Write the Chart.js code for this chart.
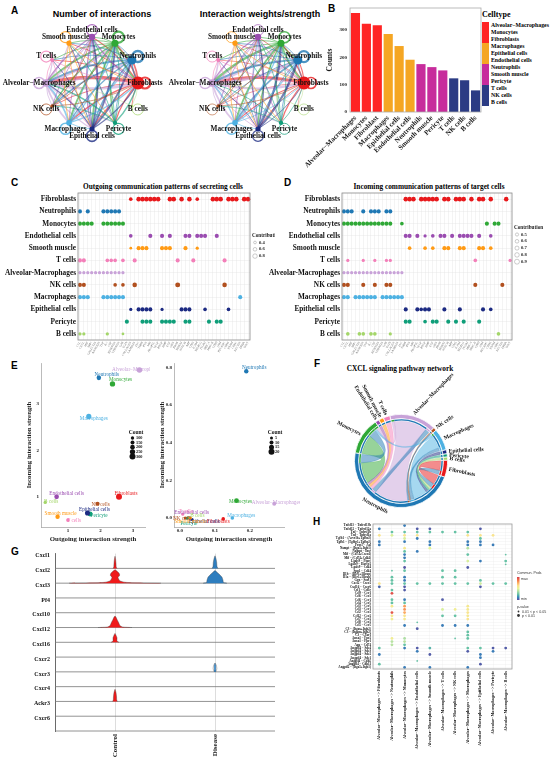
<!DOCTYPE html>
<html>
<head>
<meta charset="utf-8">
<script src="https://cdn.jsdelivr.net/npm/chart.js@4.4.1/dist/chart.umd.min.js"></script>
<style>
  body { margin: 0; background: #fff; }
  #fig { position: relative; width: 550px; height: 765px; overflow: hidden; background: #fff; }
  #fig canvas { position: absolute; }
  .tag { position: absolute; font: bold 10px "Liberation Sans", Arial, sans-serif; line-height: 1; }
  .ttlA { position: absolute; font: bold 9px "Liberation Sans", Arial, sans-serif; line-height: 1; white-space: nowrap; transform: translateX(-50%); }
  .ttl { position: absolute; font: bold 7.3px "Liberation Serif", serif; line-height: 1; white-space: nowrap; transform: translateX(-50%); }
  .lg { position: absolute; font: bold 5.8px "Liberation Serif", serif; line-height: 7px; white-space: nowrap; }
</style>
</head>
<body>
<div id="fig">
  <div class="tag" style="left:11px;top:6px">A</div>
  <div class="tag" style="left:328px;top:4px">B</div>
  <div class="tag" style="left:11px;top:178px">C</div>
  <div class="tag" style="left:284px;top:178px">D</div>
  <div class="tag" style="left:11px;top:361px">E</div>
  <div class="tag" style="left:314px;top:359px">F</div>
  <div class="tag" style="left:11px;top:547px">G</div>
  <div class="tag" style="left:313px;top:517px">H</div>
  <div class="ttlA" style="left:102px;top:10px">Number of interactions</div>
  <div class="ttlA" style="left:260px;top:10px">Interaction weights/strength</div>
  <div class="ttl" style="left:163px;top:183px">Outgoing communication patterns of secreting cells</div>
  <div class="ttl" style="left:429px;top:183px">Incoming communication patterns of target cells</div>
  <div class="ttl" style="left:400px;top:365px">CXCL signaling pathway network</div>
  <div id="legB"></div>
</div>
<script>
// ---------- data ----------
const cellColor = {
  "Fibroblasts": "#E8191C", "Neutrophils": "#1F78B4", "Monocytes": "#2FA836",
  "Endothelial cells": "#9A4CB0", "Smooth muscle": "#FF9A14", "T cells": "#F37FB9",
  "Alveolar-Macrophages": "#C8A2D8", "NK cells": "#B1501F", "Macrophages": "#4DB1E2",
  "Epithelial cells": "#1C2A82", "Pericyte": "#0F9E79", "B cells": "#A4D66A"
};

// A: circle networks
const netNodes = ["Endothelial cells", "Monocytes", "Neutrophils", "Fibroblasts", "B cells", "Pericyte",
  "Epithelial cells", "Macrophages", "NK cells", "Alveolar−Macrophages", "T cells", "Smooth muscle"];
const netRing = [1, 1, 1, 1, 1, 1, 1, 1, 1, 1, 1, 1];
const netNodeSize = [3.2, 3.5, 4.5, 6.5, 1.2, 2.2, 2.6, 2.8, 1.8, 3.8, 2, 2.6];
// [from, to, number, strength]
const netEdges = [
  [3,9,3.5,3.2],[3,7,1.4,1.2],[3,1,1.6,1.4],[3,2,1.6,1.2],[3,6,1.2,0.9],[3,0,1.2,0.9],[3,11,0.9,0.8],[3,10,0.9,0.7],[3,8,0.9,0.7],[3,5,1.2,1.2],[3,4,0.8,0.5],
  [9,3,2.6,2.2],[9,2,1.8,2.6],[9,1,1.8,2.2],[9,7,1.8,1.8],[9,6,1.4,1.0],[9,0,1.4,1.4],[9,11,1.2,0.9],[9,10,1.2,1.6],[9,5,0.9,0.9],[9,8,0.9,0.9],
  [1,9,1.8,2.2],[1,3,1.8,1.8],[1,6,1.8,1.4],[1,7,1.8,1.8],[1,8,1.4,0.9],[1,5,1.4,0.9],[1,10,0.9,0.9],[1,11,0.9,0.9],[1,0,0.9,0.9],[1,2,1.4,1.4],
  [2,9,1.8,2.2],[2,7,1.4,1.8],[2,6,1.4,0.9],[2,8,1.4,0.9],[2,3,1.4,0.9],[2,10,0.9,0.9],[2,11,0.9,0.9],[2,5,0.9,0.9],[2,1,0.9,0.9],
  [6,1,1.8,2.2],[6,2,1.8,2.2],[6,0,1.8,1.4],[6,9,1.4,0.9],[6,11,0.9,0.9],[6,3,1.4,0.9],[6,10,0.9,0.7],
  [7,9,1.8,1.4],[7,3,1.4,0.9],[7,2,1.4,1.4],[7,1,1.4,1.4],[7,0,0.9,0.9],[7,6,0.9,0.9],
  [0,6,1.4,0.9],[0,7,0.9,0.9],[0,9,1.4,1.4],[0,3,1.4,0.9],[0,5,0.9,0.9],[0,8,0.9,0.9],
  [5,9,1.4,0.9],[5,11,0.9,0.9],[5,0,0.9,0.9],[5,1,0.9,0.9],[5,8,0.9,0.9],[5,3,1.4,0.9],
  [11,5,0.9,0.9],[11,6,0.9,0.9],[11,3,0.9,0.9],[11,7,0.9,0.9],
  [10,3,0.9,0.9],[10,9,0.9,0.9],[10,6,0.9,0.9],
  [8,1,0.9,0.9],[8,3,0.9,0.9],[8,0,0.9,0.9],
  [4,9,0.6,0.6],[4,3,0.6,0.6]
];
const netLoops = [[1.2,0.8],[2.2,1.6],[2.4,2.2],[2.2,1.6],[0.9,0.7],[1.2,0.9],[1.6,1.2],[1.6,1.4],[0.9,0.7],[1.6,1.4],[1.2,0.9],[1.2,0.9]];

// B: cell counts
const cellTypes = ["Alveolar−Macrophages", "Monocytes", "Fibroblast", "Macrophages", "Epithelial cells", "Endothelial cells",
  "Neutrophils", "Smooth muscle", "Pericyte", "T cells", "NK cells", "B cells"];
const cellCounts = [362, 322, 317, 285, 241, 191, 175, 164, 152, 123, 116, 79];
const countGroup = [0, 0, 0, 1, 1, 1, 2, 2, 2, 3, 3, 3];
const groupColors = ["#FF2424", "#F5A623", "#C72C9C", "#2B3B84"];
const countTicks = [0, 100, 200, 300];
const legendNames = ["Alveolar−Macrophages", "Monocytes", "Fibroblasts", "Macrophages", "Epithelial cells", "Endothelial cells",
  "Neutrophils", "Smooth muscle", "Pericyte", "T cells", "NK cells", "B cells"];

// C, D: communication patterns
const patternCells = ["Fibroblasts", "Neutrophils", "Monocytes", "Endothelial cells", "Smooth muscle", "T cells",
  "Alveolar-Macrophages", "NK cells", "Macrophages", "Epithelial cells", "Pericyte", "B cells"];
const pathways = ["CCL","CXCL","MIF","SPP1","GALECTIN","ANNEXIN","TNF","IL1","CSF","RESISTIN","VISFATIN","GAS","TGFb",
  "COLLAGEN","LAMININ","FN1","THBS","PTN","MK","ANGPTL","VEGF","PDGF","BMP","EGF","GRN","PROS","SEMA3","NOTCH","APP",
  "CD45","ICAM","SELPLG","ITGB2","MHC-I","MHC-II","CD99","JAM","PECAM1","CDH5","ESAM","CDH1","NECTIN","EPHA","WNT"];
// per row: [pathway index, contribution]
const outgoingDots = [
  [[13,.6],[15,.8],[16,.8],[17,.8],[18,.8],[19,.8],[20,.8],[23,.8],[24,.8],[26,.8],[28,.8],[30,.6],[34,.8],[35,.8],[36,.8],[38,.8],[39,.8],[40,.8],[42,.8],[43,.8]],
  [[0,.7],[2,.7],[6,.7],[7,.7],[8,.7],[9,.7],[10,.7]],
  [[0,.7],[1,.7],[2,.7],[3,.7],[6,.7],[7,.7],[8,.7],[9,.7],[10,.7],[11,.7]],
  [[13,.6],[18,.7],[21,.7],[23,.7],[27,.7],[28,.7],[30,.7],[31,.7],[32,.7],[35,.7]],
  [[13,.4],[15,.7],[16,.7],[17,.7],[21,.7],[22,.7],[23,.7],[27,.7],[30,.5]],
  [[0,.7],[1,.7],[7,.6],[8,.6],[9,.6],[11,.6],[14,.7],[25,.7],[29,.7],[37,.7]],
  [[0,.5],[1,.5],[2,.5],[3,.5],[4,.5],[5,.5],[6,.5],[7,.5],[8,.5],[9,.5],[10,.5],[11,.5]],
  [[0,.7],[1,.7],[9,.6],[11,.6],[14,.8],[25,.9],[37,.8]],
  [[0,.7],[1,.7],[2,.7],[6,.7],[7,.7],[8,.7],[9,.7],[10,.7],[11,.7],[41,.7]],
  [[13,.5],[15,.7],[16,.7],[17,.7],[18,.7],[21,.5],[26,.7],[27,.7],[28,.7],[32,.6],[38,.6]],
  [[12,.7],[16,.7],[17,.7],[18,.7],[21,.7],[22,.7],[23,.7],[24,.7],[27,.7],[28,.7],[33,.7],[35,.7],[36,.7]],
  [[0,.5],[1,.5],[7,.5],[11,.4]]
];
const incomingDots = [
  [[16,.8],[17,.8],[18,.8],[20,.8],[21,.8],[22,.8],[23,.8],[24,.8],[26,.8],[27,.8],[29,.8],[30,.8],[31,.8],[33,.8],[35,.8],[36,.8],[38,.8],[42,.8]],
  [[0,.7],[1,.7],[2,.7],[5,.7],[7,.7],[8,.7],[9,.7],[11,.7],[12,.7]],
  [[0,.7],[1,.7],[2,.7],[3,.7],[4,.7],[5,.7],[6,.7],[7,.7],[8,.7],[9,.7],[10,.7],[11,.7],[12,.7],[15,.6],[37,.7],[39,.7],[40,.7]],
  [[16,.7],[17,.7],[19,.7],[21,.5],[23,.6],[25,.7],[26,.7],[28,.7],[30,.7],[31,.7],[32,.7],[33,.7],[35,.7],[38,.6]],
  [[17,.6],[21,.6],[23,.6],[26,.7],[27,.7],[30,.7],[31,.7],[35,.7],[36,.7],[38,.6]],
  [[1,.5],[5,.5],[8,.5],[11,.5],[12,.5],[34,.6],[43,.5]],
  [[0,.5],[1,.5],[2,.5],[3,.5],[4,.5],[5,.5],[6,.5],[7,.5],[8,.5],[9,.5],[10,.5],[11,.5],[12,.5],[13,.5],[14,.5],[15,.5]],
  [[0,.7],[1,.7],[5,.7],[8,.7],[11,.7],[12,.7],[34,.7],[41,.7]],
  [[0,.7],[1,.7],[3,.7],[4,.7],[5,.7],[6,.7],[7,.7],[8,.7],[10,.7],[11,.7],[12,.7],[13,.7],[14,.7],[15,.7]],
  [[16,.7],[19,.7],[20,.6],[21,.7],[22,.7],[26,.7],[30,.7],[36,.7],[38,.6]],
  [[16,.7],[17,.7],[21,.6],[23,.7],[24,.7],[27,.7],[29,.7],[31,.7],[35,.7]],
  [[1,.6],[4,.6],[5,.6],[7,.6],[8,.6],[12,.5],[40,.6]]
];
const outgoingLegend = [0.4, 0.6, 0.8];
const incomingLegend = [0.5, 0.6, 0.7, 0.8, 0.9];

// E: signaling role scatter
const eCells = ["Endothelial cells", "Monocytes", "Neutrophils", "Fibroblasts", "B cells", "Pericyte",
  "Epithelial cells", "Macrophages", "NK cells", "Alveolar−Macrophages", "T cells", "Smooth muscle"];
const e1Out = [0.65, 2.37, 1.95, 2.57, 0.30, 1.68, 1.60, 1.64, 1.91, 3.20, 1.00, 0.68];
const e1In = [1.00, 3.43, 3.56, 1.00, 0.88, 0.63, 0.65, 2.73, 0.85, 3.73, 0.50, 0.57];
const e1Count = [200, 250, 190, 300, 100, 220, 230, 240, 160, 260, 130, 180];
const e2Out = [0.028, 0.162, 0.190, 0.124, 0.024, 0.020, 0.035, 0.150, 0.015, 0.270, 0.008, 0.030];
const e2In = [0.002, 0.092, 0.780, -0.005, 0.003, -0.002, -0.008, 0.000, 0.000, 0.075, 0.020, 0.000];
const e2Count = [5, 14, 12, 8, 5, 5, 5, 8, 5, 10, 5, 5];
const e1XTicks = [1, 2, 3], e1YTicks = [1, 2, 3];
const e2XTicks = [0, 0.1, 0.2], e2YTicks = [0, 0.2, 0.4, 0.6, 0.8];
const e1CountLegend = [100, 150, 200, 250, 300];
const e2CountLegend = [5, 10, 15, 20];

// F: CXCL chord
const cxclCells = ["Alveolar−Macrophages", "NK cells", "Macrophages", "Epithelial cells", "Pericyte", "B cells",
  "Fibroblasts", "Neutrophils", "Monocytes", "Endothelial cells", "Smooth muscle", "T cells"];
const cxclSector = [58, 4, 27, 5, 4, 4, 21, 168, 46, 5, 6, 8];
// [source, target, value]
const cxclLinks = [[0,7,48],[2,7,20],[8,7,30],[6,7,14],[7,8,12],[7,6,6],[7,2,5],[7,0,6],[10,7,4],[11,7,4],
  [9,7,3],[3,7,3],[4,7,3],[5,7,3],[1,7,2],[0,8,4],[2,8,3],[7,1,2]];

// G: stacked violins
const geneNames = ["Cxcl1", "Cxcl2", "Cxcl3", "Pf4", "Cxcl10", "Cxcl12", "Cxcl16", "Cxcr2", "Cxcr3", "Cxcr4", "Ackr3", "Cxcr6"];
const groups = ["Control", "Disease"];
// outlines [offset from group centre, height as share of row]
const vCtrlCxcl1 = [[-0.02,0],[-0.012,0.1],[-0.01,0.35],[-0.006,0.6],[0,0.82],[0.006,0.6],[0.01,0.35],[0.012,0.1],[0.02,0]];
const vCtrlCxcl2 = [[-0.46,0],[-0.2,0.02],[-0.1,0.06],[-0.05,0.15],[-0.035,0.3],[-0.03,0.4],[-0.045,0.5],[-0.045,0.62],[-0.03,0.75],[-0.008,0.87],[0,0.9],
  [0.008,0.87],[0.03,0.75],[0.045,0.62],[0.045,0.5],[0.03,0.4],[0.035,0.3],[0.05,0.15],[0.1,0.06],[0.2,0.02],[0.46,0]];
const vCtrlCxcl10 = [[-0.17,0],[-0.08,0.03],[-0.05,0.12],[-0.035,0.35],[-0.02,0.55],[-0.008,0.72],[0,0.78],[0.008,0.72],[0.02,0.55],[0.035,0.35],[0.05,0.12],[0.08,0.03],[0.17,0]];
const vCtrlCxcl12 = [[-0.04,0],[-0.02,0.08],[-0.02,0.3],[-0.012,0.45],[0,0.6],[0.012,0.45],[0.02,0.3],[0.02,0.08],[0.04,0]];
const vCtrlCxcr4 = [[-0.025,0],[-0.017,0.1],[-0.015,0.35],[-0.01,0.6],[0,0.82],[0.01,0.6],[0.015,0.35],[0.017,0.1],[0.025,0]];
const vDisCxcl1 = [[-0.03,0],[-0.02,0.12],[-0.017,0.4],[-0.01,0.65],[0,0.85],[0.01,0.65],[0.017,0.4],[0.02,0.12],[0.03,0]];
const vDisCxcl2 = [[-0.12,0],[-0.085,0.04],[-0.08,0.2],[-0.07,0.4],[-0.05,0.55],[-0.03,0.68],[-0.01,0.8],[0,0.85],[0.01,0.8],[0.03,0.68],[0.05,0.55],[0.07,0.4],[0.08,0.2],[0.085,0.04],[0.12,0]];
const vDisCxcr2 = [[-0.008,0],[-0.018,0.2],[-0.015,0.4],[0,0.6],[0.015,0.4],[0.018,0.2],[0.008,0]];
const violins = [[0,0,vCtrlCxcl1],[0,1,vCtrlCxcl2],[0,4,vCtrlCxcl10],[0,5,vCtrlCxcl12],[0,9,vCtrlCxcr4],
  [1,0,vDisCxcl1],[1,1,vDisCxcl2],[1,7,vDisCxcr2]];

// H: ligand-receptor dot plot
const lrPairs = ["Tnfsf13 − Tnfrsf13b","Tnfsf12 − Tnfrsf12a","Tnf − Tnfrsf1b","Tnf − Tnfrsf1a","Tgfb1 − (Acvr1b+Tgfbr2)",
  "Tgfb1 − (Tgfbr1+Tgfbr2)","Pros1 − Axl","Nampt − (Itga5+Itgb1)","Nampt − Insr","Mif − (Cd74+Cxcr4)","Mif − (Cd74+Cd44)",
  "Lgals9 − Ptprc","Lgals9 − Havcr2","Lgals9 − Cd44","Spp1 − Cd44","Il1b − (Il1r1+Il1rap)","Il1a − (Il1r1+Il1rap)",
  "Grn − Sort1","Cxcl2 − Cxcr2","Cxcl16 − Cxcr6","Csf1 − Csf1r","Ccl9 − Ccr1","Ccl6 − Ccr2","Ccl6 − Ccr1","Ccl4 − Ccr5",
  "Ccl3 − Ccr5","Ccl3 − Ccr1","Ccl2 − Ccr2","Ccl12 − Ccr2","Ccl7 − Ccr2","Ccl8 − Ccr2","Ccl5 − Ccr5","C3 − (Itgax+Itgb2)",
  "C3 − (Itgam+Itgb2)","C3 − C3ar1","Anxa1 − Fpr2","Anxa1 − Fpr1","App − Cd74","Angptl4 − Sdc4","Angptl4 − Sdc3",
  "Angptl4 − Sdc2","Angptl4 − Sdc1","Angptl4 − Cdh5","Angptl4 − Cdh11","Angptl2 − (Itga5+Itgb1)"];
const targetCells = ["Fibroblasts", "Neutrophils", "Monocytes", "Endothelial cells", "Smooth muscle", "T cells",
  "NK cells", "Macrophages", "Epithelial cells", "Pericyte", "B cells"];
// per target column: [row, commun. prob (0-1 of max), p-class 1: p<0.01, 0: 0.01<p<0.05]
const hDots = [
  [[1,.1],[3,.6],[5,.1],[6,.1],[18,.6],[19,.05],[38,.25],[40,.1],[43,.25]],
  [[2,.25],[3,.47],[14,.25,0],[16,.25],[17,.25],[18,.25],[20,.25],[21,.95],[23,.25],[24,.25],[25,.58],[27,.93],[28,.58],[29,.55],[35,.55],[36,.4],[37,.4]],
  [[0,.1],[2,.25],[3,.6],[4,.47],[5,.1],[7,.58],[8,.25],[9,.1],[10,.1],[11,.25],[13,.02],[14,.25],[16,.1],[17,.1],[18,.25],[19,.03],[20,.03],[23,.1],[24,.25],[25,.78],[26,.8],[27,.76],[28,.6],[29,.58],[31,.1],[35,.38],[36,.4],[37,.25],[38,.1],[44,.1]],
  [[1,.03],[2,.25],[3,.6],[4,.1],[8,.1],[18,.25],[30,.25,0],[32,.03],[38,.03],[39,.1],[42,.25,0]],
  [[1,.03],[2,.25],[5,.1],[6,.1],[7,.5],[18,.25],[38,.22],[40,.03],[44,.1]],
  [[2,.25],[14,.25],[16,.25],[18,.25],[23,.03],[26,.47],[28,.25],[31,.1]],
  [[2,.25],[14,.25],[16,.25],[18,.25],[26,.55],[28,.25],[31,.1],[35,.25,0]],
  [[2,.25],[3,.6],[5,.1],[6,.1],[7,.4],[9,.25],[11,.47],[13,.03],[18,.25],[25,.58],[26,.58],[27,.6],[28,.58],[29,.6],[31,.1],[33,.25],[34,.25],[35,.25],[38,.25],[39,.03],[44,.1]],
  [[1,.03],[3,.6],[4,.25],[5,.1],[6,.1],[11,.1],[17,.25],[18,.45],[19,.03],[38,.25],[40,.1],[41,.1],[43,.03]],
  [[3,.6],[6,.1],[18,.25],[38,.03],[39,.1]],
  [[9,.25,0],[11,.25],[12,.25,0],[18,.25],[38,.03]]
];
const probStops = ["#5E4FA2","#3288BD","#66C2A5","#ABDDA4","#E6F598","#FEE08B","#FDAE61","#F46D43","#D53E4F"];

// ---------- helpers ----------
const SERIF = '"Liberation Serif", "DejaVu Serif", serif';
Chart.defaults.font.family = SERIF;
Chart.defaults.font.weight = 'bold';
Chart.defaults.color = '#1a1a1a';
Chart.defaults.animation = false;
Chart.defaults.responsive = false;
Chart.defaults.maintainAspectRatio = false;
Chart.defaults.plugins.legend.display = false;
Chart.defaults.plugins.tooltip.enabled = false;

const fig = document.getElementById('fig');
function cv(l, t, w, h) {
  const c = document.createElement('canvas');
  c.width = w; c.height = h;
  c.style.left = l + 'px'; c.style.top = t + 'px';
  c.style.width = w + 'px'; c.style.height = h + 'px';
  fig.appendChild(c);
  return c;
}
function col(name) { return cellColor[name.replace('−', '-')]; }
function rgba(hex, a) {
  const n = parseInt(hex.slice(1), 16);
  return `rgba(${n >> 16},${(n >> 8) & 255},${n & 255},${a})`;
}
function mix(h1, h2, f) {
  const a = parseInt(h1.slice(1), 16), b = parseInt(h2.slice(1), 16);
  const ch = s => Math.round(((a >> s) & 255) * (1 - f) + ((b >> s) & 255) * f);
  return `rgb(${ch(16)},${ch(8)},${ch(0)})`;
}
function probColor(p) {
  const t = Math.max(0, Math.min(1, p)) * (probStops.length - 1);
  const i = Math.min(Math.floor(t), probStops.length - 2);
  return mix(probStops[i], probStops[i + 1], t - i);
}
const fixTicks = vals => s => { s.ticks = vals.map(v => ({ value: v })); };
const noGrid = { display: false, drawTicks: false };

const boxPlugin = {
  id: 'box',
  afterDraw(c, a, o) {
    const { left, top, right, bottom } = c.chartArea;
    c.ctx.save();
    c.ctx.strokeStyle = o.color || '#999';
    c.ctx.lineWidth = o.width || 0.8;
    c.ctx.strokeRect(left, top, right - left, bottom - top);
    c.ctx.restore();
  }
};

// ---------- A: networks ----------
const netPlugin = {
  id: 'net',
  beforeDatasetsDraw(chart, a, o) {
    const sc = chart.scales.r, ctx = chart.ctx, k = o.k;
    ctx.save();
    netLoops.forEach((lw, i) => {
      const p = sc.getPointPositionForValue(i, 1.15);
      ctx.beginPath();
      ctx.arc(p.x, p.y, 5.5, 0, Math.PI * 2);
      ctx.strokeStyle = rgba(col(netNodes[i]), 0.8);
      ctx.lineWidth = lw[k];
      ctx.stroke();
    });
    netEdges.forEach(e => {
      const p = sc.getPointPositionForValue(e[0], 1), q = sc.getPointPositionForValue(e[1], 1);
      const mx = (p.x + q.x) / 2, my = (p.y + q.y) / 2;
      const dx = q.x - p.x, dy = q.y - p.y;
      ctx.beginPath();
      ctx.moveTo(p.x, p.y);
      ctx.quadraticCurveTo(mx - dy * 0.12, my + dx * 0.12, q.x, q.y);
      ctx.strokeStyle = rgba(col(netNodes[e[0]]), 0.6);
      ctx.lineWidth = e[2 + k];
      ctx.stroke();
    });
    ctx.restore();
  },
  afterDatasetsDraw(chart) {
    const sc = chart.scales.r, ctx = chart.ctx;
    ctx.save();
    ctx.font = 'bold 7.3px ' + SERIF;
    ctx.fillStyle = '#111';
    ctx.textAlign = 'center';
    ctx.textBaseline = 'middle';
    netNodes.forEach((n, i) => {
      const p = sc.getPointPositionForValue(i, 1.15);
      ctx.fillText(n, p.x, p.y);
    });
    ctx.restore();
  }
};
function netChart(left, k) {
  new Chart(cv(left, 0, 180, 145), {
    type: 'radar',
    data: {
      labels: netNodes,
      datasets: [{
        data: netRing, showLine: false, fill: false, clip: false, borderWidth: 0,
        backgroundColor: 'rgba(0,0,0,0)', borderColor: 'rgba(0,0,0,0)',
        pointRadius: netNodeSize, pointBorderWidth: 0,
        pointBackgroundColor: netNodes.map(col)
      }]
    },
    options: {
      layout: { padding: { left: 46, top: 37, right: 42, bottom: 16 } },
      scales: { r: { min: 0, max: 1, grid: { display: false }, angleLines: { display: false },
        pointLabels: { display: false }, ticks: { display: false } } },
      plugins: { net: { k } }
    },
    plugins: [netPlugin]
  });
}
netChart(0, 0);
netChart(166, 1);

// ---------- B: counts ----------
new Chart(cv(290, 0, 260, 172), {
  type: 'bar',
  data: {
    labels: cellTypes,
    datasets: [{ data: cellCounts, backgroundColor: countGroup.map(g => groupColors[g]), barPercentage: 0.84, categoryPercentage: 1 }]
  },
  options: {
    layout: { padding: { left: 36, top: 8, right: 69 } },
    scales: {
      x: { grid: noGrid, border: { display: false },
        ticks: { minRotation: 45, maxRotation: 45, autoSkip: false, font: { size: 7 }, padding: 2 },
        afterFit: s => { s.height = 60; } },
      y: { min: 0, max: 380, grid: noGrid, border: { display: false },
        afterBuildTicks: fixTicks(countTicks), ticks: { autoSkip: false, font: { size: 5 }, padding: 3 },
        title: { display: true, text: 'Counts', font: { size: 7.5 }, padding: 0 },
        afterFit: s => { s.width = 24; } }
    },
    plugins: { box: { color: '#aaa' } }
  },
  plugins: [boxPlugin]
});
(function legendB() {
  const lg = document.getElementById('legB');
  let html = '<div class="lg" style="left:482px;top:10px;font-size:8px;line-height:9px">Celltype</div>';
  legendNames.forEach((n, i) => {
    const y = 22 + i * 7;
    html += `<div style="position:absolute;left:482px;top:${y}px;width:7px;height:7px;background:${groupColors[countGroup[i]]}"></div>`;
    html += `<div class="lg" style="left:491px;top:${y}px">${n}</div>`;
  });
  lg.innerHTML = html;
})();

// ---------- C, D: pattern dot plots ----------
const contribR = c => 0.5 + 2.2 * c;
const contribLegend = {
  id: 'contribLegend',
  afterDraw(chart, a, o) {
    const vals = o.which === 1 ? outgoingLegend : incomingLegend;
    const ctx = chart.ctx, x = chart.chartArea.right + o.dx, y = chart.chartArea.top + o.dy;
    ctx.save();
    ctx.fillStyle = '#222';
    ctx.font = 'bold 5.2px ' + SERIF;
    ctx.textBaseline = 'middle';
    ctx.fillText('Contribution', x, y);
    ctx.font = 'bold 4.6px ' + SERIF;
    vals.forEach((v, k) => {
      const yy = y + 6.5 + k * 6.8;
      ctx.beginPath();
      ctx.arc(x + 3, yy, contribR(v), 0, Math.PI * 2);
      ctx.strokeStyle = '#999'; ctx.lineWidth = 0.5; ctx.stroke();
      ctx.fillText(v.toFixed(1), x + 7, yy);
    });
    ctx.restore();
  }
};
function patternChart(left, width, yWidth, padRight, dots, which, lx, ly) {
  new Chart(cv(left, 175, width, 190), {
    type: 'scatter',
    data: {
      datasets: dots.map((row, r) => ({
        data: row.map(d => ({ x: pathways[d[0]], y: patternCells[r], c: d[1] })),
        pointBackgroundColor: cellColor[patternCells[r]], pointBorderWidth: 0,
        pointRadius: ctx => ctx.raw ? contribR(ctx.raw.c) : 2
      }))
    },
    options: {
      layout: { padding: { top: 18, right: padRight } },
      scales: {
        x: { type: 'category', labels: pathways, offset: true,
          grid: { color: '#e4e4e4', lineWidth: 0.4, drawTicks: false }, border: { display: false },
          ticks: { autoSkip: false, minRotation: 60, maxRotation: 60, font: { size: 3, weight: 'normal' }, color: '#666', padding: 1 },
          afterFit: s => { s.height = 25; } },
        y: { type: 'category', labels: patternCells, offset: true,
          grid: { color: '#e4e4e4', lineWidth: 0.4, drawTicks: false }, border: { display: false },
          ticks: { autoSkip: false, font: { size: 7.3 }, padding: 2, color: '#111' },
          afterFit: s => { s.width = yWidth; } }
      },
      plugins: { box: { color: '#888' }, contribLegend: { which, dx: lx, dy: ly } }
    },
    plugins: [boxPlugin, contribLegend]
  });
}
patternChart(0, 275, 78, 25, outgoingDots, 1, 2, 43);
patternChart(262, 288, 80, 38, incomingDots, 2, 2, 35);

// ---------- E: scatter ----------
const eLabelOffset = {
  1: [[10,-3],[8,-4],[8,-3],[7,-3],[6,-1],[9,2],[7,-3],[5,2],[3,1],[-3,0],[6,1],[3,-3]],
  2: [[2,-5],[4,1],[8,-4],[-5,3],[9,-2],[2,5],[12,2],[9,-2],[-3,1],[2,-1],[3,-3],[0,4]]
};
const scatterLabels = {
  id: 'slabels',
  afterDatasetsDraw(chart, a, o) {
    const off = eLabelOffset[o.which], ctx = chart.ctx;
    const meta = chart.getDatasetMeta(0);
    ctx.save();
    ctx.font = '5.2px ' + SERIF;
    ctx.textAlign = 'center';
    ctx.textBaseline = 'middle';
    meta.data.forEach((pt, i) => {
      ctx.fillStyle = col(eCells[i]);
      ctx.fillText(eCells[i], pt.x + off[i][0], pt.y + off[i][1]);
    });
    ctx.restore();
  }
};
const countLegend = {
  id: 'countLegend',
  afterDraw(chart, a, o) {
    const vals = o.which === 1 ? e1CountLegend : e2CountLegend;
    const ctx = chart.ctx, x = chart.chartArea.right - 9, y = chart.chartArea.top + 70;
    ctx.save();
    ctx.fillStyle = '#111';
    ctx.textBaseline = 'middle';
    ctx.font = 'bold 5.5px ' + SERIF;
    ctx.textAlign = 'center';
    ctx.fillText('Count', x, y);
    ctx.font = 'bold 4.3px ' + SERIF;
    ctx.textAlign = 'left';
    vals.forEach((v, k) => {
      const yy = y + 5 + k * 4.6;
      ctx.beginPath();
      ctx.arc(x - 3.5, yy, 1 + v / o.rs, 0, Math.PI * 2);
      ctx.fill();
      ctx.fillText(String(v), x, yy);
    });
    ctx.restore();
  }
};
function eChart(left, width, padRight, xs, ys, counts, rs, xr, yr, xt, yt, which, dec) {
  new Chart(cv(left, 350, width, 193), {
    type: 'scatter',
    data: {
      datasets: [{
        data: eCells.map((c, i) => ({ x: xs[i], y: ys[i], n: counts[i] })),
        pointBackgroundColor: eCells.map(col), pointBorderWidth: 0,
        pointRadius: ctx => ctx.raw ? 1 + ctx.raw.n / rs : 2
      }]
    },
    options: {
      layout: { padding: { top: 13, right: padRight } },
      scales: {
        x: { min: xr[0], max: xr[1], afterBuildTicks: fixTicks(xt), grid: noGrid,
          border: { color: '#aaa', width: 0.8 },
          ticks: { autoSkip: false, font: { size: 5 }, padding: 1, callback: v => Number(v).toFixed(dec) },
          title: { display: true, text: 'Outgoing interaction strength', font: { size: 6.8 }, padding: { top: 1, bottom: 0 } },
          afterFit: s => { s.height = 16; } },
        y: { min: yr[0], max: yr[1], afterBuildTicks: fixTicks(yt), grid: noGrid,
          border: { color: '#aaa', width: 0.8 },
          ticks: { autoSkip: false, font: { size: 5 }, padding: 2, callback: v => Number(v).toFixed(dec) },
          title: { display: true, text: 'Incoming interaction strength', font: { size: 6.8 }, padding: { top: 3, bottom: 0 } },
          afterFit: s => { s.width = 19; } }
      },
      plugins: { slabels: { which }, countLegend: { which, rs } }
    },
    plugins: [scatterLabels, countLegend]
  });
}
eChart(22, 128, 5, e1Out, e1In, e1Count, 150, [0.17, 3.37], [0.35, 3.88], e1XTicks, e1YTicks, 1, 0);
eChart(155, 145, 16, e2Out, e2In, e2Count, 10, [-0.017, 0.298], [-0.048, 0.824], e2XTicks, e2YTicks, 2, 1);

// ---------- F: chord ----------
const cxclLabelLayout = [
  [null, -46, 'left'], [null, -34, 'left'], [null, -24, 'left'], [null, -3, 'left'], [null, 5, 'left'], [null, 8, 'left'],
  [null, 12, 'left'], [210, 28, 'center'], [null, 27, 'right'], [null, 58, 'right'], [null, 62, 'right'], [null, 65, 'right']
];
const chordPlugin = {
  id: 'chord',
  afterDatasetsDraw(chart) {
    const arcs = chart.getDatasetMeta(0).data, ctx = chart.ctx;
    const cx = arcs[0].x, cy = arcs[0].y, Ro = arcs[0].outerRadius, R = arcs[0].innerRadius - 2.6;
    const mid = arcs.map(a => (a.startAngle + a.endAngle) / 2);
    const ends = arcs.map(() => []);
    cxclLinks.forEach((l, li) => {
      ends[l[0]].push({ li, other: l[1], v: l[2], role: 's' });
      ends[l[1]].push({ li, other: l[0], v: l[2], role: 't' });
    });
    const pos = cxclLinks.map(() => ({}));
    const TAU = Math.PI * 2;
    ends.forEach((list, i) => {
      const a = arcs[i], pad = 0.01, span = a.endAngle - a.startAngle - 2 * pad;
      const tot = list.reduce((s, e) => s + e.v, 0);
      if (!tot) return;
      const d = e => (((mid[e.other] - mid[i]) % TAU) + TAU) % TAU;
      list.sort((p, q) => d(q) - d(p));
      let cur = a.startAngle + pad;
      list.forEach(e => {
        const w = span * e.v / tot;
        pos[e.li][e.role] = [cur, cur + w];
        cur += w;
      });
    });
    ctx.save();
    cxclLinks.forEach((l, li) => {
      const s = pos[li].s, t = pos[li].t;
      ctx.beginPath();
      ctx.arc(cx, cy, R, s[0], s[1]);
      ctx.quadraticCurveTo(cx, cy, cx + R * Math.cos(t[0]), cy + R * Math.sin(t[0]));
      ctx.arc(cx, cy, R, t[0], t[1]);
      ctx.quadraticCurveTo(cx, cy, cx + R * Math.cos(s[0]), cy + R * Math.sin(s[0]));
      ctx.closePath();
      ctx.fillStyle = rgba(col(cxclCells[l[0]]), 0.5);
      ctx.fill();
      ctx.strokeStyle = rgba(col(cxclCells[l[0]]), 0.7);
      ctx.lineWidth = 0.3;
      ctx.stroke();
      ['s', 't'].forEach(r => {
        ctx.beginPath();
        ctx.arc(cx, cy, R + 1.3, pos[li][r][0], pos[li][r][1]);
        ctx.strokeStyle = col(cxclCells[l[1]]);
        ctx.lineWidth = 1.4;
        ctx.stroke();
      });
    });
    ctx.font = 'bold 5.6px ' + SERIF;
    ctx.fillStyle = '#111';
    ctx.textBaseline = 'middle';
    cxclCells.forEach((n, i) => {
      const lay = cxclLabelLayout[i];
      const ang = lay[0] === null ? mid[i] : (lay[0] - 90) * Math.PI / 180;
      const rr = Ro + (lay[2] === 'center' ? 5 : 2);
      ctx.save();
      ctx.translate(cx + rr * Math.cos(ang), cy + rr * Math.sin(ang));
      ctx.rotate(lay[1] * Math.PI / 180);
      ctx.textAlign = lay[2];
      ctx.fillText(n, 0, 0);
      ctx.restore();
    });
    ctx.restore();
  }
};
new Chart(cv(283, 355, 267, 165), {
  type: 'doughnut',
  data: {
    labels: cxclCells,
    datasets: [{ data: cxclSector, backgroundColor: cxclCells.map(col), borderColor: '#fff', borderWidth: 0.8 }]
  },
  options: {
    rotation: -14, cutout: '91%',
    layout: { padding: { left: 71, top: 59, right: 102, bottom: 12 } }
  },
  plugins: [chordPlugin]
});

// ---------- G: violins ----------
const rowLines = {
  id: 'rowLines',
  beforeDatasetsDraw(chart) {
    const { left, right } = chart.chartArea, y = chart.scales.y, ctx = chart.ctx;
    ctx.save();
    ctx.strokeStyle = '#777';
    ctx.lineWidth = 0.8;
    geneNames.forEach((g, i) => {
      const py = y.getPixelForValue(11 - i);
      ctx.beginPath(); ctx.moveTo(left, py); ctx.lineTo(right, py); ctx.stroke();
    });
    ctx.restore();
  }
};
new Chart(cv(0, 545, 280, 220), {
  type: 'scatter',
  data: {
    datasets: violins.map(v => ({
      data: v[2].map(p => ({ x: v[0] + 1 + p[0], y: 11 - v[1] + p[1] })),
      showLine: true, fill: { value: 11 - v[1] }, pointRadius: 0, tension: 0.15,
      backgroundColor: v[0] === 0 ? '#F0191A' : '#2E7EBF', borderColor: '#444', borderWidth: 0.4
    }))
  },
  options: {
    layout: { padding: { top: 6, right: 5 } },
    scales: {
      x: { min: 0.4, max: 2.6, afterBuildTicks: fixTicks([1, 2]),
        grid: { color: '#bbb', lineWidth: 0.5, drawTicks: false }, border: { display: false },
        ticks: { autoSkip: false, minRotation: 90, maxRotation: 90, font: { size: 7 }, padding: 3, callback: (v, i) => groups[i] },
        afterFit: s => { s.height = 34; } },
      y: { min: 0, max: 12, afterBuildTicks: fixTicks(geneNames.map((g, i) => 11.85 - i)),
        grid: noGrid, border: { color: '#444', width: 0.8 },
        ticks: { autoSkip: false, font: { size: 6 }, padding: 5, color: '#111', callback: (v, i) => geneNames[i] },
        afterFit: s => { s.width = 55; } }
    }
  },
  plugins: [rowLines]
});

// ---------- H: L-R dot plot ----------
const probLegend = {
  id: 'probLegend',
  afterDraw(chart) {
    const ctx = chart.ctx, x = chart.chartArea.right + 5, y = chart.chartArea.top + 49;
    ctx.save();
    ctx.font = '3.6px "Liberation Sans", sans-serif';
    ctx.fillStyle = '#333';
    ctx.textBaseline = 'middle';
    ctx.fillText('Commun. Prob.', x, y);
    const g = ctx.createLinearGradient(0, y + 4, 0, y + 27);
    probStops.slice().reverse().forEach((c, i, arr) => g.addColorStop(i / (arr.length - 1), c));
    ctx.fillStyle = g;
    ctx.fillRect(x, y + 4, 2.5, 23);
    ctx.fillStyle = '#333';
    ctx.fillText('max', x + 4, y + 5.5);
    ctx.fillText('min', x + 4, y + 26);
    ctx.fillText('p-value', x, y + 34);
    [['0.01 < p < 0.05', 0.9], ['p < 0.01', 1.4]].forEach((it, k) => {
      const yy = y + 38.5 + k * 4;
      ctx.beginPath(); ctx.arc(x + 1.5, yy, it[1], 0, Math.PI * 2); ctx.fill();
      ctx.fillText(it[0], x + 5, yy);
    });
    ctx.restore();
  }
};
const hColLabels = targetCells.map(t => 'Alveolar−Macrophages −> ' + t);
new Chart(cv(300, 515, 250, 250), {
  type: 'scatter',
  data: {
    datasets: [{
      data: hDots.flatMap((list, c) => list.map(d => ({ x: hColLabels[c], y: lrPairs[d[0]], p: d[1], s: d.length > 2 ? d[2] : 1 }))),
      pointBorderWidth: 0,
      pointBackgroundColor: ctx => ctx.raw ? probColor(ctx.raw.p) : '#888',
      pointRadius: ctx => ctx.raw && ctx.raw.s === 0 ? 0.9 : 1.4
    }]
  },
  options: {
    layout: { padding: { top: 9, right: 38 } },
    scales: {
      x: { type: 'category', labels: hColLabels, offset: true,
        grid: { color: '#eee', lineWidth: 0.4, drawTicks: false }, border: { display: false },
        ticks: { autoSkip: false, minRotation: 90, maxRotation: 90, font: { size: 4.2 }, padding: 2, color: '#111' },
        afterFit: s => { s.height = 96; } },
      y: { type: 'category', labels: lrPairs, offset: true,
        grid: { color: '#eee', lineWidth: 0.4, drawTicks: false }, border: { display: false },
        ticks: { autoSkip: false, font: { size: 3.2 }, padding: 2, color: '#111' },
        afterFit: s => { s.width = 73; } }
    },
    plugins: { box: { color: '#999' } }
  },
  plugins: [boxPlugin, probLegend]
});
</script>
</body>
</html>
